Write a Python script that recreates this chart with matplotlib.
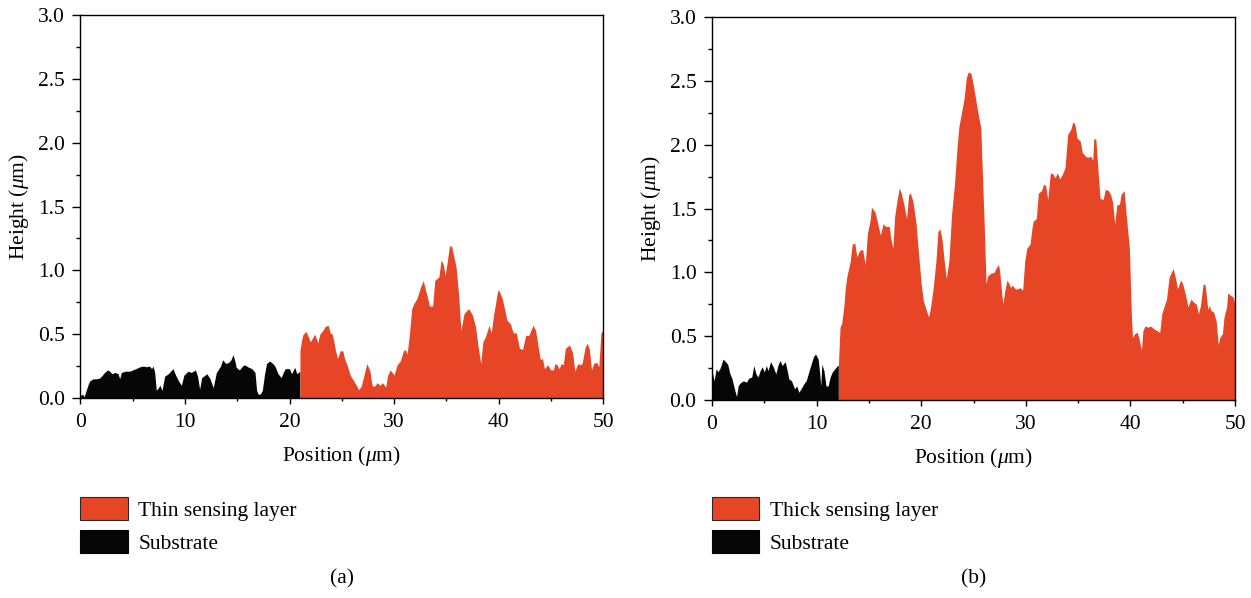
import matplotlib
matplotlib.use("Agg")
import matplotlib.pyplot as plt
from matplotlib.patches import Patch
from matplotlib.ticker import MultipleLocator, FormatStrFormatter

# ---------------- data ----------------
# Panel (a): thin sensing layer
a_sub_x = [0.0, 0.2, 0.35, 0.55, 0.75, 0.9, 1.2, 1.5, 1.8, 2.0, 2.3, 2.6, 2.8, 3.0, 3.3, 3.6, 3.75, 3.9,
           4.3, 4.7, 5.0, 5.3, 5.7, 6.0, 6.3, 6.6, 6.8, 6.95, 7.1, 7.25, 7.45, 7.6, 7.8, 8.05, 8.4, 8.85,
           9.1, 9.4, 9.65, 9.9, 10.3, 10.6, 11.0, 11.2, 11.4, 11.6, 12.1, 12.4, 12.7, 13.0, 13.4, 13.6,
           13.9, 14.2, 14.4, 14.6, 14.8, 14.9, 15.2, 15.5, 15.7, 16.1, 16.4, 16.7, 16.85, 17.0, 17.2,
           17.4, 17.6, 17.8, 18.1, 18.4, 18.6, 18.9, 19.2, 19.4, 19.6, 20.0, 20.2, 20.5, 20.7, 21.0]
a_sub_y = [0.02, 0.03, 0.01, 0.06, 0.11, 0.135, 0.15, 0.15, 0.155, 0.17, 0.2, 0.22, 0.21, 0.19, 0.2, 0.19,
           0.15, 0.2, 0.21, 0.21, 0.22, 0.23, 0.245, 0.25, 0.245, 0.25, 0.23, 0.25, 0.2, 0.06, 0.08, 0.1,
           0.06, 0.17, 0.19, 0.23, 0.18, 0.13, 0.1, 0.18, 0.21, 0.2, 0.22, 0.17, 0.07, 0.16, 0.19, 0.15,
           0.08, 0.2, 0.25, 0.3, 0.27, 0.28, 0.3, 0.34, 0.28, 0.24, 0.22, 0.25, 0.26, 0.24, 0.23, 0.2,
           0.06, 0.03, 0.03, 0.06, 0.18, 0.27, 0.29, 0.27, 0.25, 0.19, 0.16, 0.2, 0.23, 0.23, 0.19, 0.24,
           0.19, 0.21]
a_layer_x = [21.0, 21.15, 21.3, 21.6, 21.8, 22.0, 22.2, 22.4, 22.6, 22.7, 22.9, 23.2, 23.4, 23.7, 23.9,
             24.1, 24.3, 24.4, 24.6, 24.85, 25.1, 25.3, 25.5, 25.8, 26.1, 26.4, 26.6, 26.85, 27.1, 27.4,
             27.7, 27.9, 28.1, 28.4, 28.65, 28.9, 29.2, 29.4, 29.65, 30.0, 30.3, 30.6, 30.9, 31.1, 31.25,
             31.45, 31.7, 31.9, 32.2, 32.5, 32.8, 33.1, 33.4, 33.7, 33.9, 34.3, 34.5, 34.7, 34.9, 35.1,
             35.3, 35.5, 35.8, 35.95, 36.2, 36.4, 36.7, 37.0, 37.15, 37.5, 37.8, 38.0, 38.3, 38.5, 38.75,
             39.1, 39.3, 39.55, 39.9, 40.0, 40.35, 40.6, 40.8, 41.15, 41.4, 41.7, 42.0, 42.3, 42.6, 42.9,
             43.3, 43.55, 43.8, 44.0, 44.2, 44.4, 44.7, 45.0, 45.25, 45.4, 45.6, 45.8, 46.0, 46.2, 46.4,
             46.8, 47.1, 47.3, 47.6, 47.8, 48.0, 48.3, 48.5, 48.7, 48.9, 49.1, 49.4, 49.6, 49.8, 50.0]
a_layer_y = [0.37, 0.45, 0.5, 0.52, 0.48, 0.44, 0.47, 0.5, 0.46, 0.43, 0.5, 0.53, 0.56, 0.57, 0.51, 0.5,
             0.42, 0.37, 0.31, 0.37, 0.37, 0.3, 0.26, 0.18, 0.14, 0.1, 0.065, 0.09, 0.17, 0.27, 0.21, 0.1,
             0.09, 0.12, 0.1, 0.12, 0.086, 0.18, 0.22, 0.18, 0.26, 0.29, 0.37, 0.38, 0.34, 0.48, 0.7, 0.74,
             0.78, 0.86, 0.92, 0.82, 0.72, 0.72, 0.92, 0.95, 1.08, 1.05, 0.96, 1.07, 1.19, 1.19, 1.08, 1.02,
             0.79, 0.53, 0.66, 0.69, 0.7, 0.65, 0.56, 0.43, 0.27, 0.44, 0.48, 0.57, 0.51, 0.66, 0.83, 0.85,
             0.78, 0.69, 0.61, 0.58, 0.51, 0.51, 0.39, 0.38, 0.49, 0.49, 0.57, 0.53, 0.4, 0.3, 0.31, 0.23,
             0.26, 0.22, 0.22, 0.27, 0.26, 0.23, 0.27, 0.26, 0.39, 0.415, 0.35, 0.21, 0.27, 0.26, 0.27, 0.4,
             0.43, 0.38, 0.22, 0.27, 0.28, 0.245, 0.51, 0.53]

# Panel (b): thick sensing layer
b_sub_x = [0.0, 0.2, 0.4, 0.55, 0.75, 0.9, 1.05, 1.3, 1.5, 1.7, 1.9, 2.2, 2.35, 2.5, 2.65, 2.8, 3.0, 3.3,
           3.5, 3.8, 4.0, 4.2, 4.4, 4.6, 4.8, 5.0, 5.2, 5.35, 5.6, 5.85, 6.1, 6.3, 6.5, 6.7, 7.0, 7.15,
           7.35, 7.6, 7.9, 8.1, 8.3, 8.6, 8.8, 9.0, 9.4, 9.7, 9.9, 10.15, 10.3, 10.4, 10.5, 10.7, 10.9,
           11.1, 11.3, 11.5, 11.75, 12.0, 12.08]
b_sub_y = [0.23, 0.15, 0.245, 0.22, 0.245, 0.28, 0.32, 0.3, 0.28, 0.21, 0.17, 0.07, 0.026, 0.11, 0.13,
           0.14, 0.15, 0.14, 0.17, 0.18, 0.27, 0.205, 0.18, 0.23, 0.26, 0.22, 0.27, 0.23, 0.3, 0.26, 0.205,
           0.27, 0.31, 0.27, 0.3, 0.245, 0.165, 0.15, 0.087, 0.11, 0.06, 0.1, 0.13, 0.15, 0.26, 0.34, 0.36,
           0.32, 0.205, 0.11, 0.28, 0.23, 0.11, 0.11, 0.18, 0.22, 0.245, 0.27, 0.27]
b_layer_x = [12.08, 12.24, 12.4, 12.6, 12.75, 12.9, 13.2, 13.4, 13.65, 13.85, 14.1, 14.4, 14.65, 14.85,
             15.1, 15.25, 15.6, 15.85, 16.1, 16.35, 16.6, 16.95, 17.1, 17.3, 17.45, 17.7, 17.9, 18.1,
             18.35, 18.6, 18.8, 18.96, 19.2, 19.5, 19.7, 20.0, 20.2, 20.5, 20.7, 20.9, 21.15, 21.4, 21.6,
             21.8, 22.0, 22.2, 22.4, 22.65, 22.9, 23.2, 23.4, 23.6, 23.85, 24.1, 24.3, 24.5, 24.75, 24.95,
             25.2, 25.4, 25.7, 25.85, 26.0, 26.2, 26.35, 26.6, 26.97, 27.2, 27.4, 27.5, 27.8, 28.0, 28.2,
             28.4, 28.55, 28.7, 29.0, 29.2, 29.45, 29.7, 29.9, 30.1, 30.4, 30.6, 30.7, 31.0, 31.2, 31.5,
             31.7, 31.9, 32.1, 32.35, 32.6, 32.8, 33.0, 33.25, 33.5, 33.75, 34.0, 34.3, 34.5, 34.7, 34.9,
             35.2, 35.4, 35.7, 35.95, 36.2, 36.4, 36.5, 36.7, 36.95, 37.1, 37.4, 37.6, 37.9, 38.1, 38.3,
             38.5, 38.7, 38.95, 39.1, 39.4, 39.6, 39.9, 40.1, 40.2, 40.4, 40.65, 40.8, 41.05, 41.2, 41.4,
             41.7, 41.9, 42.2, 42.5, 42.8, 43.0, 43.25, 43.45, 43.7, 43.85, 44.1, 44.35, 44.5, 44.8, 45.0,
             45.25, 45.5, 45.8, 46.0, 46.3, 46.5, 46.7, 46.95, 47.15, 47.4, 47.55, 47.7, 47.95, 48.2, 48.4,
             48.55, 48.8, 48.95, 49.2, 49.3, 49.55, 49.8, 50.0]
b_layer_y = [0.27, 0.57, 0.6, 0.73, 0.88, 0.97, 1.08, 1.22, 1.23, 1.12, 1.17, 1.18, 1.06, 1.3, 1.4, 1.51,
             1.47, 1.38, 1.29, 1.38, 1.36, 1.36, 1.26, 1.19, 1.43, 1.57, 1.66, 1.62, 1.53, 1.42, 1.61, 1.62,
             1.56, 1.39, 1.19, 0.91, 0.78, 0.7, 0.65, 0.73, 0.88, 1.08, 1.32, 1.34, 1.25, 1.09, 0.95, 1.09,
             1.45, 1.71, 1.95, 2.14, 2.25, 2.36, 2.52, 2.57, 2.56, 2.48, 2.36, 2.26, 2.13, 1.77, 1.43, 0.91,
             0.97, 0.99, 1.0, 1.04, 1.06, 1.01, 0.75, 0.86, 0.94, 0.91, 0.88, 0.9, 0.87, 0.87, 0.88, 0.86,
             1.09, 1.19, 1.22, 1.35, 1.4, 1.42, 1.62, 1.64, 1.69, 1.68, 1.57, 1.78, 1.77, 1.74, 1.78, 1.73,
             1.77, 1.82, 2.08, 2.12, 2.18, 2.16, 2.05, 2.03, 1.94, 1.91, 1.9, 1.91, 1.88, 2.05, 2.04, 1.74,
             1.58, 1.57, 1.65, 1.64, 1.61, 1.55, 1.38, 1.53, 1.53, 1.61, 1.64, 1.45, 1.19, 0.65, 0.49, 0.52,
             0.53, 0.49, 0.39, 0.545, 0.58, 0.57, 0.58, 0.56, 0.545, 0.53, 0.675, 0.74, 0.79, 0.96, 0.99,
             1.03, 0.94, 0.87, 0.94, 0.91, 0.83, 0.73, 0.79, 0.77, 0.75, 0.675, 0.74, 0.91, 0.9, 0.71, 0.74,
             0.7, 0.69, 0.62, 0.43, 0.49, 0.52, 0.65, 0.73, 0.84, 0.82, 0.81, 0.75]

layer_labels = ["Thin sensing layer", "Thick sensing layer"]
substrate_label = "Substrate"
panel_tags = ["(a)", "(b)"]
xlabel = r"Position ($\mu$m)"
ylabel = r"Height ($\mu$m)"

# ---------------- style ----------------
plt.rcParams["font.family"] = ["Liberation Serif", "DejaVu Serif"]
plt.rcParams["mathtext.fontset"] = "custom"
plt.rcParams["mathtext.rm"] = "Liberation Serif"
plt.rcParams["mathtext.it"] = "Liberation Serif:italic"
plt.rcParams["axes.linewidth"] = 1.0

ORANGE = "#E64626"
BLACK = "#060606"
FS = 15.5

W, H = 1251, 598
fig = plt.figure(figsize=(W / 100, H / 100), dpi=100)

axes_px = [(80.5, 603.0, 398.0, 15.0), (712.0, 1235.0, 400.0, 17.0)]
panels = [(a_sub_x, a_sub_y, a_layer_x, a_layer_y), (b_sub_x, b_sub_y, b_layer_x, b_layer_y)]

for i, ((x0, x1, yb, yt), (sx, sy, lx, ly)) in enumerate(zip(axes_px, panels)):
    ax = fig.add_axes([x0 / W, (H - yb) / H, (x1 - x0) / W, (yb - yt) / H])
    ax.fill_between(sx, sy, 0, color=BLACK, linewidth=0)
    ax.fill_between(lx, ly, 0, color=ORANGE, linewidth=0)
    ax.set_xlim(0, 50)
    ax.set_ylim(0, 3)
    ax.xaxis.set_major_locator(MultipleLocator(10))
    ax.xaxis.set_minor_locator(MultipleLocator(5))
    ax.yaxis.set_major_locator(MultipleLocator(0.5))
    ax.yaxis.set_minor_locator(MultipleLocator(0.25))
    ax.yaxis.set_major_formatter(FormatStrFormatter("%.1f"))
    ax.tick_params(axis="y", which="major", direction="out", length=5.6, width=1.0, pad=5.5, labelsize=FS)
    ax.tick_params(axis="y", which="minor", direction="out", length=2.7, width=1.0)
    ax.tick_params(axis="x", which="major", direction="out", length=4.0, width=1.0, pad=6.5, labelsize=FS)
    ax.tick_params(axis="x", which="minor", direction="out", length=2.0, width=1.0)
    ax.set_xlabel(xlabel, fontsize=FS, labelpad=9)
    ax.set_ylabel(ylabel, fontsize=FS, labelpad=5)

    handles = [Patch(facecolor=ORANGE, edgecolor="#2a2a2a", linewidth=0.8),
               Patch(facecolor=BLACK, edgecolor=BLACK, linewidth=0.8)]
    fig.legend(handles, [layer_labels[i], substrate_label], loc="upper left",
               bbox_to_anchor=(x0 / W, 1 - 497 / H), frameon=False, borderpad=0,
               borderaxespad=0, handlelength=2.19, handleheight=1.25, handletextpad=0.5,
               labelspacing=0.45, fontsize=FS)
    fig.text((x0 + x1) / 2 / W, 1 - 579 / H, panel_tags[i], ha="center", va="center", fontsize=FS)

fig.savefig("out.png", dpi=100)
